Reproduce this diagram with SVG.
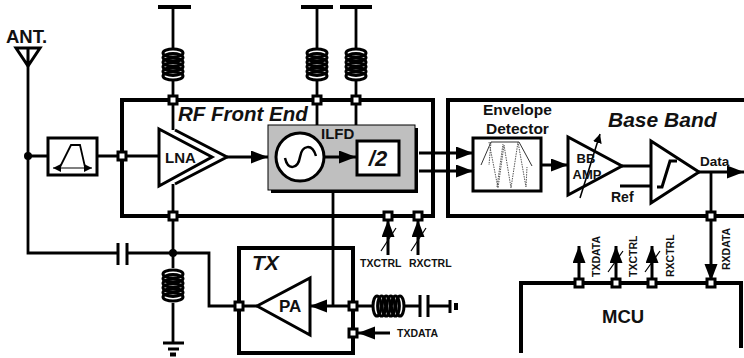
<svg xmlns="http://www.w3.org/2000/svg" width="744" height="358" viewBox="0 0 744 358">
<style>
text{font-family:"Liberation Sans",Arial,sans-serif;font-weight:bold;fill:#111}
.i{font-style:italic}
.w{fill:none;stroke:#000;stroke-width:2.8}
.t{fill:none;stroke:#000;stroke-width:4}
.m{fill:none;stroke:#000;stroke-width:3;stroke-linejoin:miter}
.f{fill:#fff;stroke:#000;stroke-width:3}
.th{fill:none;stroke:#000;stroke-width:1.2}
.d{fill:none;stroke:#555;stroke-width:1;stroke-dasharray:1.5 1}
.a{fill:none;stroke:#000;stroke-width:3;marker-end:url(#ah)}
.sm{font-size:10.5px}
.c{fill:none;stroke:#000;stroke-width:3}
</style>
<defs>
<marker id="ah" markerUnits="userSpaceOnUse" markerWidth="18" markerHeight="14" refX="17" refY="6.500" orient="auto"><path d="M0 0L17 6.500L0 13Z" fill="#000"/></marker>
<marker id="ahs" markerUnits="userSpaceOnUse" markerWidth="10" markerHeight="8" refX="8" refY="4" orient="auto-start-reverse"><path d="M0 0L8 4L0 8Z" fill="#000"/></marker>
<marker id="ahm" markerUnits="userSpaceOnUse" markerWidth="10" markerHeight="10" refX="9" refY="4.500" orient="auto"><path d="M0 0L9 4.500L0 9Z" fill="#000"/></marker>
<g id="coilV">
<ellipse cx="0" cy="5" rx="10" ry="4" class="c"/>
<ellipse cx="0" cy="9.600" rx="10" ry="4" class="c"/>
<ellipse cx="0" cy="14.200" rx="10" ry="4" class="c"/>
<ellipse cx="0" cy="18.800" rx="10" ry="4" class="c"/>
<ellipse cx="0" cy="23.400" rx="10" ry="4" class="c"/>
<ellipse cx="0" cy="28" rx="10" ry="4" class="c"/>
</g>
<g id="coilH">
<ellipse cy="0" cx="5" ry="10" rx="4" class="c"/>
<ellipse cy="0" cx="9.600" ry="10" rx="4" class="c"/>
<ellipse cy="0" cx="14.200" ry="10" rx="4" class="c"/>
<ellipse cy="0" cx="18.800" ry="10" rx="4" class="c"/>
<ellipse cy="0" cx="23.400" ry="10" rx="4" class="c"/>
<ellipse cy="0" cx="28" ry="10" rx="4" class="c"/>
</g>
<rect id="n" x="-4" y="-4" width="8" height="8" class="f"/>
</defs>

<g id="connectors">
<path class="w" d="M28 66V253H118M127 253H209V306H239"/>
<path class="w" d="M28 156H47M97 156H159"/>
<path class="w" d="M173 7V48M173 81V130M173 184V268M173 303V343"/>
<path class="w" d="M317 7V48M317 81V125M356 7V48M356 81V125"/>
<path class="t" d="M158 7H191M301 7H333M340 7H372"/>
<path class="w" d="M163 343H184M168 349H179"/><path class="t" d="M170 354.500H176"/>
<path class="a" d="M227 157H268"/>
<path class="w" d="M333 157V306"/>
<path class="a" d="M419 153H473"/>
<path class="a" d="M419 171H473"/>
<path class="a" d="M541 165H568"/>
<path class="m" d="M622 166H651M620 186H651"/>
<path class="a" d="M699 172H744"/>
<path class="w" d="M711 172V216"/>
<path class="a" d="M711 219V281"/>
<path class="a" d="M579 280V246"/>
<path class="a" d="M616 280V246"/>
<path class="a" d="M652 280V246"/>
<path class="a" d="M388 255V220"/>
<path class="a" d="M418 255V220"/>
<path class="a" d="M353 306H310"/>
<path class="a" d="M390 333H358"/>
<path class="w" d="M239 306H257M353 306H372M405 306H420M428 306H449"/>
<path class="th" d="M381 251L396 228M411 251L426 228M608 272L623 251M645 272L660 251"/>
<path d="M580 198L600 134" fill="none" stroke="#000" stroke-width="1.500" marker-end="url(#ahm)"/>
</g>

<g id="antenna">
<path class="m" d="M16 48H40L28 66ZM28 48V66"/>
<text x="6" y="43" font-size="18.500">ANT.</text>
<circle cx="28" cy="156" r="4" fill="#000"/>
</g>
<g id="filter">
<rect x="48" y="138" width="49" height="37" class="f"/>
<path d="M60 167L71 145H80L85 167" fill="none" stroke="#000" stroke-width="1.800"/>
<path d="M53 168H92" fill="none" stroke="#000" stroke-width="1.200" marker-start="url(#ahs)" marker-end="url(#ahs)"/>
</g>
<g id="rf-front-end">
<path d="M122 216V100H433V216Z" class="t"/>
<text class="i" x="178" y="121" font-size="20.500">RF Front End</text>
</g>
<g id="lna">
<path class="m" d="M175 130L227 157L175 184"/>
<path class="f" d="M159 129L212 157L159 186Z"/>
<text x="165" y="163" font-size="15">LNA</text>
</g>
<g id="ilfd">
<rect x="271" y="128" width="147" height="65" fill="#000"/>
<rect x="268" y="125" width="147" height="65" fill="#bfbfbf" stroke="#000" stroke-width="1"/>
<text x="321" y="139" font-size="15">ILFD</text>
<circle cx="300" cy="157" r="24" fill="#fff" stroke="#000" stroke-width="3"/>
<path d="M285 158C288 171 298 169 300 157C302 145 312 143 316 156" fill="none" stroke="#000" stroke-width="2.500"/>
<path class="a" d="M324 157H356"/>
<rect x="357" y="141" width="42" height="34" class="f"/>
<text class="i" x="378" y="166" font-size="22" text-anchor="middle">/2</text>
</g>
<g id="base-band">
<path d="M744 100H448V216H744" class="t"/>
<text class="i" x="608" y="127" font-size="21">Base Band</text>
</g>
<g id="envelope-detector">
<text x="483" y="115" font-size="15.500">Envelope</text>
<text x="486" y="134" font-size="15.500">Detector</text>
<rect x="473" y="138" width="68" height="53" class="f"/>
<path d="M481 165L491 142H519L532 166" fill="none" stroke="#333" stroke-width="1"/>
<path class="d" d="M489 142L498 188L504 145L511 188L518 142L526 187L527 167"/>
<path class="d" d="M491 142L489 165M497 187L503 144"/>
</g>
<g id="bb-amp">
<path class="m" d="M568 137V195L622 166Z"/>
<text x="586" y="163" font-size="13" text-anchor="middle">BB</text>
<text x="587" y="179" font-size="13" text-anchor="middle">AMP</text>
</g>
<g id="comparator">
<path class="f" d="M651 141V203L699 172Z"/>
<path class="m" d="M657 187H662L670 161H677"/>
<text x="700" y="166" font-size="13.500">Data</text>
<text x="611" y="202" font-size="14">Ref</text>
</g>
<g id="tx">
<path class="t" d="M239 248H353V353H239Z"/>
<text class="i" x="252" y="270" font-size="21">TX</text>
<path class="m" d="M257 306L310 278V335Z"/>
<text x="279" y="312" font-size="17">PA</text>
</g>
<g id="mcu">
<path class="t" d="M521 353V283H741V348"/>
<text x="602" y="323" font-size="18.500">MCU</text>
</g>
<g id="inductors">
<use href="#coilV" x="173" y="48"/>
<use href="#coilV" x="317" y="48"/>
<use href="#coilV" x="356" y="48"/>
<use href="#coilV" x="173" y="269"/>
<use href="#coilH" x="372" y="306"/>
</g>
<g id="capacitors">
<path class="m" d="M118 243V265M127 243V265M420 295V317M428 295V317"/>
<path class="m" d="M450 300V313"/><path class="t" d="M456 303V310"/>
</g>
<g id="junctions">
<circle cx="173" cy="253" r="4" fill="#000"/>
<use href="#n" x="122" y="156"/><use href="#n" x="173" y="100"/><use href="#n" x="317" y="100"/><use href="#n" x="356" y="100"/>
<use href="#n" x="173" y="216"/><use href="#n" x="388" y="216"/><use href="#n" x="418" y="216"/><use href="#n" x="711" y="216"/>
<use href="#n" x="239" y="306"/><use href="#n" x="353" y="306"/><use href="#n" x="353" y="333"/>
<use href="#n" x="579" y="283"/><use href="#n" x="616" y="283"/><use href="#n" x="652" y="283"/><use href="#n" x="711" y="283"/>
</g>
<g id="labels">
<text class="sm" x="360" y="267">TXCTRL</text>
<text class="sm" x="409" y="267">RXCTRL</text>
<text class="sm" x="397" y="337">TXDATA</text>
<text class="sm" transform="translate(600 277) rotate(-90)">TXDATA</text>
<text class="sm" transform="translate(637 277) rotate(-90)">TXCTRL</text>
<text class="sm" transform="translate(674 277) rotate(-90)">RXCTRL</text>
<text class="sm" transform="translate(730 270) rotate(-90)">RXDATA</text>
</g>
</svg>
